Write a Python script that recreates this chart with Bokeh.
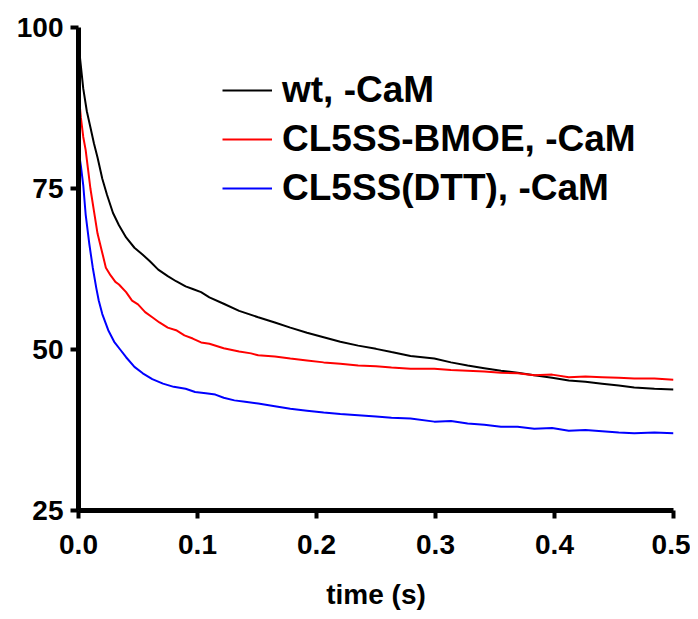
from bokeh.plotting import figure
from bokeh.models import Range1d, FixedTicker, PrintfTickFormatter, Legend, LegendItem
from bokeh.embed import file_html
from bokeh.resources import INLINE

# ---- data ----
t_wt = [0, 0.002, 0.004, 0.007, 0.010, 0.013, 0.016, 0.020, 0.024, 0.029, 0.034, 0.040, 0.047,
        0.054, 0.060, 0.067, 0.075, 0.082, 0.090, 0.096, 0.103, 0.110, 0.122, 0.135, 0.151,
        0.165, 0.178, 0.192, 0.206, 0.220, 0.235, 0.250, 0.263, 0.279, 0.299, 0.313, 0.327,
        0.341, 0.355, 0.369, 0.383, 0.398, 0.412, 0.426, 0.440, 0.454, 0.467, 0.484, 0.5]
v_wt = [97.5, 94, 90.5, 87, 84.5, 82, 79.8, 76.5, 74, 71.2, 69.3, 67.4, 65.8,
        64.7, 63.7, 62.4, 61.4, 60.6, 59.8, 59.4, 58.9, 58.1, 57.1, 56.0, 55.0,
        54.2, 53.4, 52.6, 51.9, 51.2, 50.6, 50.1, 49.6, 49.0, 48.6, 48.0, 47.5,
        47.1, 46.7, 46.4, 46.0, 45.6, 45.2, 45.0, 44.7, 44.4, 44.1, 43.9, 43.8]

t_bmoe = [0, 0.002, 0.004, 0.006, 0.008, 0.010, 0.013, 0.016, 0.020, 0.023, 0.027, 0.031, 0.034,
          0.040, 0.045, 0.050, 0.056, 0.062, 0.068, 0.075, 0.082, 0.089, 0.096, 0.103, 0.110,
          0.122, 0.135, 0.145, 0.151, 0.165, 0.178, 0.192, 0.206, 0.220, 0.235, 0.250, 0.263,
          0.279, 0.299, 0.313, 0.327, 0.341, 0.355, 0.369, 0.383, 0.398, 0.412, 0.426, 0.440,
          0.454, 0.467, 0.484, 0.5]
v_bmoe = [90, 86, 83, 81, 78, 75, 71.5, 68, 65, 62.7, 61.5, 60.5, 60.1,
          58.9, 57.6, 57.0, 55.8, 55.0, 54.2, 53.4, 53.0, 52.2, 51.7, 51.1, 50.9,
          50.2, 49.7, 49.4, 49.1, 48.9, 48.6, 48.3, 48.0, 47.8, 47.5, 47.4, 47.2,
          47.0, 47.0, 46.8, 46.7, 46.6, 46.4, 46.3, 46.0, 46.1, 45.7, 45.8, 45.7,
          45.6, 45.5, 45.5, 45.3]

t_dtt = [0, 0.002, 0.004, 0.006, 0.009, 0.012, 0.015, 0.017, 0.020, 0.025, 0.030, 0.035, 0.040,
         0.047, 0.054, 0.062, 0.071, 0.080, 0.090, 0.098, 0.107, 0.115, 0.122, 0.131, 0.140,
         0.151, 0.165, 0.178, 0.192, 0.206, 0.220, 0.235, 0.250, 0.263, 0.279, 0.299, 0.313,
         0.327, 0.341, 0.355, 0.369, 0.383, 0.398, 0.412, 0.426, 0.440, 0.454, 0.467, 0.484, 0.5]
v_dtt = [81, 78.5, 75.5, 71, 66.5, 62.7, 59.5, 57.6, 55.5, 53, 51.2, 50, 48.8,
         47.3, 46.3, 45.4, 44.7, 44.2, 43.9, 43.4, 43.2, 43.0, 42.5, 42.1, 41.9,
         41.6, 41.2, 40.8, 40.5, 40.2, 40.0, 39.8, 39.6, 39.4, 39.3, 38.8, 38.9,
         38.5, 38.3, 38.0, 38.0, 37.7, 37.8, 37.4, 37.5, 37.3, 37.1, 37.0, 37.1, 37.0]

labels = ["wt, -CaM", "CL5SS-BMOE, -CaM", "CL5SS(DTT), -CaM"]
colors = ["#000000", "#ff0000", "#0000ff"]
x_ticks = [0.0, 0.1, 0.2, 0.3, 0.4, 0.5]
y_ticks = [25, 50, 75, 100]

FONT = "Liberation Sans"

p = figure(width=690, height=619, output_backend="svg", toolbar_location=None,
           x_range=Range1d(0, 0.5), y_range=Range1d(25, 100),
           min_border_left=78, min_border_right=17, min_border_top=27, min_border_bottom=109)
p.outline_line_color = None
p.grid.visible = False
p.background_fill_color = "white"
p.border_fill_color = "white"

renderers = []
for tt, vv, c in [(t_wt, v_wt, colors[0]), (t_bmoe, v_bmoe, colors[1]), (t_dtt, v_dtt, colors[2])]:
    r = p.line(tt, vv, line_color=c, line_width=2)
    renderers.append(r)

for ax in (p.xaxis[0], p.yaxis[0]):
    ax.axis_line_width = 5
    ax.axis_line_color = "black"
    ax.major_tick_line_width = 4
    ax.major_tick_line_color = "black"
    ax.major_tick_out = 8
    ax.major_tick_in = 0
    ax.minor_tick_line_color = None
    ax.major_label_text_font = FONT
    ax.major_label_text_font_style = "bold"
    ax.major_label_text_font_size = "28px"
    ax.major_label_text_color = "black"

p.xaxis[0].ticker = FixedTicker(ticks=x_ticks)
p.xaxis[0].formatter = PrintfTickFormatter(format="%.1f")
p.xaxis[0].major_label_standoff = 16
p.yaxis[0].ticker = FixedTicker(ticks=y_ticks)
p.yaxis[0].major_label_standoff = 7

p.xaxis[0].axis_label = "time (s)"
p.xaxis[0].axis_label_text_font = FONT
p.xaxis[0].axis_label_text_font_style = "bold"
p.xaxis[0].axis_label_text_font_size = "28px"
p.xaxis[0].axis_label_text_color = "black"
p.xaxis[0].axis_label_standoff = 22

items = [LegendItem(label=labels[i], renderers=[renderers[i]]) for i in range(3)]
legend = Legend(items=items, location=(144, 301), orientation="vertical",
                label_text_font=FONT, label_text_font_style="bold", label_text_font_size="37px",
                label_text_color="black", glyph_width=50, glyph_height=40, label_height=40,
                label_standoff=10, spacing=7, padding=0, margin=0,
                border_line_color=None, background_fill_alpha=0)
p.add_layout(legend, "center")

open("out.html", "w").write(file_html(p, INLINE))
